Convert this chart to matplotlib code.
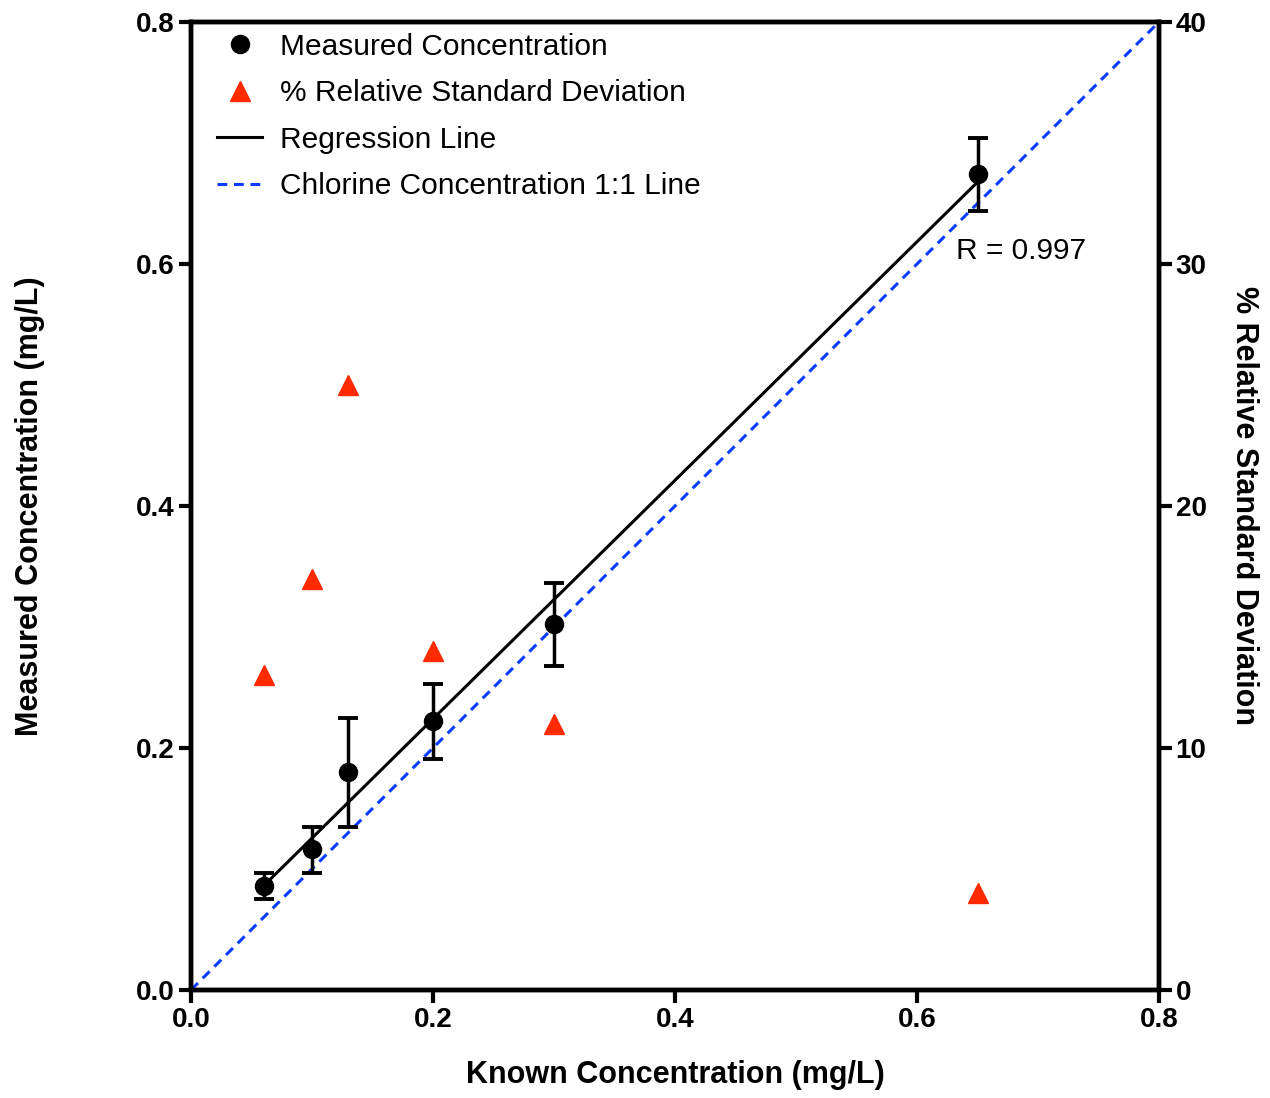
import numpy as np
import matplotlib
matplotlib.use("Agg")
import matplotlib.pyplot as plt
from matplotlib.lines import Line2D

plt.rcParams['font.family'] = ['Liberation Sans', 'DejaVu Sans']

known = [0.06, 0.10, 0.13, 0.20, 0.30, 0.65]
measured = [0.086, 0.1165, 0.180, 0.222, 0.3025, 0.674]
err_low = [0.075, 0.097, 0.135, 0.191, 0.268, 0.644]
err_high = [0.097, 0.135, 0.225, 0.253, 0.336, 0.704]
rsd = [13, 17, 25, 14, 11, 4]
r_text = "R = 0.997"
xticks = [0.0, 0.2, 0.4, 0.6, 0.8]
yticks = [0.0, 0.2, 0.4, 0.6, 0.8]
rticks = [0, 10, 20, 30, 40]

fig = plt.figure(figsize=(12.7, 10.98), dpi=100)
ax = fig.add_axes([0.1504, 0.0984, 0.7622, 0.8816])
ax2 = ax.twinx()

kx = np.array(known)
my = np.array(measured)
yerr = np.array([my - np.array(err_low), np.array(err_high) - my])

blue = '#0a3cff'
red = '#ff2a00'

# 1:1 line
ax.plot([0, 0.8], [0, 0.8], color=blue, linestyle=(0, (3.2, 2.2)), lw=2.2, zorder=2)
# regression line
slope, intercept = np.polyfit(kx, my, 1)
ax.plot([kx.min(), kx.max()], [slope * kx.min() + intercept, slope * kx.max() + intercept],
        color='black', lw=2.2, zorder=3)
ax.errorbar(kx, my, yerr=yerr, fmt='o', color='black', ms=13, capsize=7.5,
            elinewidth=2.5, capthick=2.8, zorder=4)
ax2.plot(kx, rsd, linestyle='none', marker='^', color=red, ms=15, zorder=4)

ax.set_xlim(0, 0.8)
ax.set_ylim(0, 0.8)
ax2.set_ylim(0, 40)
ax.set_xticks(xticks)
ax.set_yticks(yticks)
ax2.set_yticks(rticks)
ax.set_xticklabels([f"{v:.1f}" for v in xticks], fontsize=20, fontweight='bold')
ax.set_yticklabels([f"{v:.1f}" for v in yticks], fontsize=20, fontweight='bold')
ax2.set_yticklabels([str(v) for v in rticks], fontsize=20, fontweight='bold')

for a in (ax, ax2):
    for s in a.spines.values():
        s.set_linewidth(3.2)
    a.tick_params(width=3, length=9, direction='out', pad=3)

ax.set_xlabel("Known Concentration (mg/L)", fontsize=22, fontweight='bold', labelpad=20)
ax.set_ylabel("Measured Concentration (mg/L)", fontsize=22, fontweight='bold', labelpad=65)
ax2.set_ylabel("% Relative Standard Deviation", fontsize=22, fontweight='bold',
               rotation=270, labelpad=38)

ax.text(0.632, 0.611, r_text, fontsize=21.5, va='center', ha='left')

handles = [
    Line2D([], [], marker='o', color='black', linestyle='none', ms=13),
    Line2D([], [], marker='^', color=red, linestyle='none', ms=15),
    Line2D([], [], color='black', lw=2.2),
    Line2D([], [], color=blue, lw=2.2, linestyle=(0, (3.2, 2.2))),
]
labels = ["Measured Concentration", "% Relative Standard Deviation",
          "Regression Line", "Chlorine Concentration 1:1 Line"]
leg = ax.legend(handles, labels, loc='upper left', bbox_to_anchor=(0.027, 0.989),
                frameon=False, fontsize=21.5, handlelength=1.5, handletextpad=0.6,
                labelspacing=0.62, borderpad=0, borderaxespad=0)

fig.savefig("out.png", dpi=100)
